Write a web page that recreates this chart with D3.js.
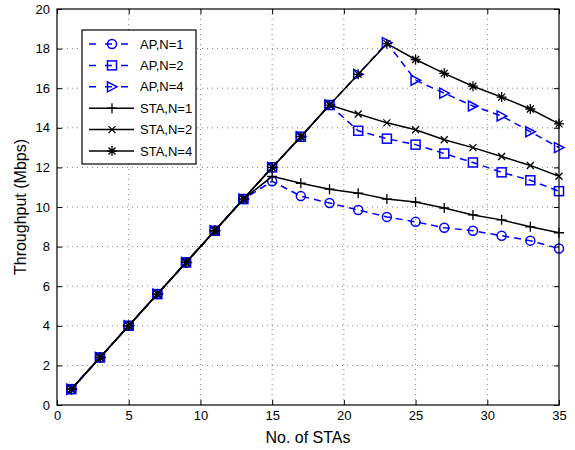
<!DOCTYPE html>
<html>
<head>
<meta charset="utf-8">
<script src="https://cdn.jsdelivr.net/npm/d3@7"></script>
<style>
  body { margin: 0; background: #fff; }
  svg { font-family: "Liberation Sans", Arial, sans-serif; }
</style>
</head>
<body>
<svg id="chart" width="575" height="450"></svg>
<script>
// data
let stas = [1, 3, 5, 7, 9, 11, 13, 15, 17, 19, 21, 23, 25, 27, 29, 31, 33, 35];
let rise = [0.8, 2.4, 4.0, 5.6, 7.2, 8.8, 10.4, 12.0];

let apN1 = rise.slice(0, 7).concat([11.3, 10.55, 10.2, 9.85, 9.5, 9.25, 8.95, 8.8, 8.55, 8.3, 7.9]);
let apN2 = rise.concat([13.55, 15.15, 13.85, 13.45, 13.15, 12.7, 12.25, 11.75, 11.35, 10.8]);
let apN4 = rise.concat([13.55, 15.15, 16.7, 18.3, 16.4, 15.75, 15.1, 14.6, 13.8, 13.0]);
let staN1 = rise.slice(0, 7).concat([11.55, 11.2, 10.9, 10.7, 10.4, 10.25, 9.95, 9.6, 9.35, 9.0, 8.7]);
let staN2 = rise.concat([13.55, 15.15, 14.7, 14.25, 13.9, 13.4, 13.0, 12.55, 12.1, 11.55]);
let staN4 = rise.concat([13.55, 15.15, 16.7, 18.25, 17.45, 16.75, 16.1, 15.55, 14.95, 14.2]);

let seriesNames = ['AP,N=1', 'AP,N=2', 'AP,N=4', 'STA,N=1', 'STA,N=2', 'STA,N=4'];
let seriesValues = [apN1, apN2, apN4, staN1, staN2, staN4];
let markers = ['circle', 'square', 'triangle', 'plus', 'cross', 'star'];

let xTicks = [0, 5, 10, 15, 20, 25, 30, 35];
let yTicks = [0, 2, 4, 6, 8, 10, 12, 14, 16, 18, 20];

let margin = {top: 9, right: 16, bottom: 45, left: 57};
let width = 575 - margin.left - margin.right;
let height = 450 - margin.top - margin.bottom;

let svg = d3.select('#chart')
    .append('g')
    .attr('transform', 'translate(' + margin.left + ',' + margin.top + ')');

let xScale = d3.scaleLinear().domain([0, 35]).range([0, width]);
let yScale = d3.scaleLinear().domain([0, 20]).range([height, 0]);

// dotted grid
svg.append('g').selectAll('line')
    .data(xTicks.slice(1, -1))
    .enter().append('line')
    .attr('x1', d => xScale(d)).attr('x2', d => xScale(d))
    .attr('y1', 0).attr('y2', height)
    .attr('stroke', '#808080').attr('stroke-width', 1)
    .attr('stroke-dasharray', '1,4');
svg.append('g').selectAll('line')
    .data(yTicks.slice(1, -1))
    .enter().append('line')
    .attr('y1', d => yScale(d)).attr('y2', d => yScale(d))
    .attr('x1', 0).attr('x2', width)
    .attr('stroke', '#808080').attr('stroke-width', 1)
    .attr('stroke-dasharray', '1,4');

// axes, ticks inside like matlab
function styleAxis(g) {
    g.select('.domain').remove();
    g.selectAll('line').attr('stroke', '#000');
    g.selectAll('text').attr('font-size', 13).attr('fill', '#000');
}
svg.append('g')
    .attr('transform', 'translate(0,' + height + ')')
    .call(d3.axisBottom(xScale).tickValues(xTicks).tickSize(-5).tickPadding(6))
    .call(styleAxis);
svg.append('g')
    .call(d3.axisLeft(yScale).tickValues(yTicks).tickSize(-5).tickPadding(7))
    .call(styleAxis);
svg.append('g')
    .call(d3.axisTop(xScale).tickValues(xTicks).tickSize(-5).tickFormat(''))
    .call(styleAxis);
svg.append('g')
    .attr('transform', 'translate(' + width + ',0)')
    .call(d3.axisRight(yScale).tickValues(yTicks).tickSize(-5).tickFormat(''))
    .call(styleAxis);

function drawMarker(g, type, color) {
    let s = 4.5;
    if (type === 'circle') {
        g.append('circle').attr('r', s).attr('fill', 'none').attr('stroke', color).attr('stroke-width', 1.5);
    } else if (type === 'square') {
        g.append('rect').attr('x', -s).attr('y', -s).attr('width', 2 * s).attr('height', 2 * s)
            .attr('fill', 'none').attr('stroke', color).attr('stroke-width', 1.5);
    } else if (type === 'triangle') {
        g.append('path').attr('d', 'M' + (-s) + ',' + (-s - 0.5) + 'L' + (s + 0.5) + ',0L' + (-s) + ',' + (s + 0.5) + 'Z')
            .attr('fill', 'none').attr('stroke', color).attr('stroke-width', 1.5);
    } else if (type === 'plus') {
        g.append('path').attr('d', 'M-5,0H5M0,-5V5').attr('stroke', color).attr('stroke-width', 1.3);
    } else if (type === 'cross') {
        g.append('path').attr('d', 'M-3.5,-3.5L3.5,3.5M-3.5,3.5L3.5,-3.5').attr('stroke', color).attr('stroke-width', 1.3);
    } else if (type === 'star') {
        g.append('path').attr('d', 'M-5,0H5M0,-5V5M-3.5,-3.5L3.5,3.5M-3.5,3.5L3.5,-3.5')
            .attr('stroke', color).attr('stroke-width', 1.3);
    }
}

let line = d3.line()
    .x(d => xScale(d[0]))
    .y(d => yScale(d[1]));

seriesValues.forEach(function (vals, i) {
    let isAP = i < 3;
    let color = isAP ? '#0000ff' : '#000000';
    let pts = stas.map((x, j) => [x, vals[j]]);
    svg.append('path')
        .datum(pts)
        .attr('d', line)
        .attr('fill', 'none')
        .attr('stroke', color)
        .attr('stroke-width', 1.5)
        .attr('stroke-dasharray', isAP ? '7,5' : null);
    pts.forEach(function (p) {
        let g = svg.append('g').attr('transform', 'translate(' + xScale(p[0]) + ',' + yScale(p[1]) + ')');
        drawMarker(g, markers[i], color);
    });
});

// box
svg.append('rect')
    .attr('width', width).attr('height', height)
    .attr('fill', 'none').attr('stroke', '#000').attr('stroke-width', 1.2);

// legend
let legend = svg.append('g').attr('transform', 'translate(25,21)');
legend.append('rect')
    .attr('width', 114).attr('height', 134)
    .attr('fill', '#fff').attr('stroke', '#000').attr('stroke-width', 1.2);
seriesNames.forEach(function (name, i) {
    let isAP = i < 3;
    let color = isAP ? '#0000ff' : '#000000';
    let y = 14 + i * 21.4;
    let row = legend.append('g').attr('transform', 'translate(0,' + y + ')');
    row.append('line')
        .attr('x1', 7).attr('x2', 52).attr('y1', 0).attr('y2', 0)
        .attr('stroke', color).attr('stroke-width', 1.5)
        .attr('stroke-dasharray', isAP ? '7,9' : null);
    drawMarker(row.append('g').attr('transform', 'translate(30,0)'), markers[i], color);
    row.append('text')
        .attr('x', 58).attr('y', 4.5)
        .attr('font-size', 13)
        .text(name);
});

// axis titles
svg.append('text')
    .attr('x', width / 2).attr('y', height + 38)
    .attr('text-anchor', 'middle')
    .attr('font-size', 16)
    .text('No. of STAs');
svg.append('text')
    .attr('transform', 'translate(-31,' + (height / 2) + ') rotate(-90)')
    .attr('text-anchor', 'middle')
    .attr('font-size', 16)
    .text('Throughput (Mbps)');
</script>
</body>
</html>
